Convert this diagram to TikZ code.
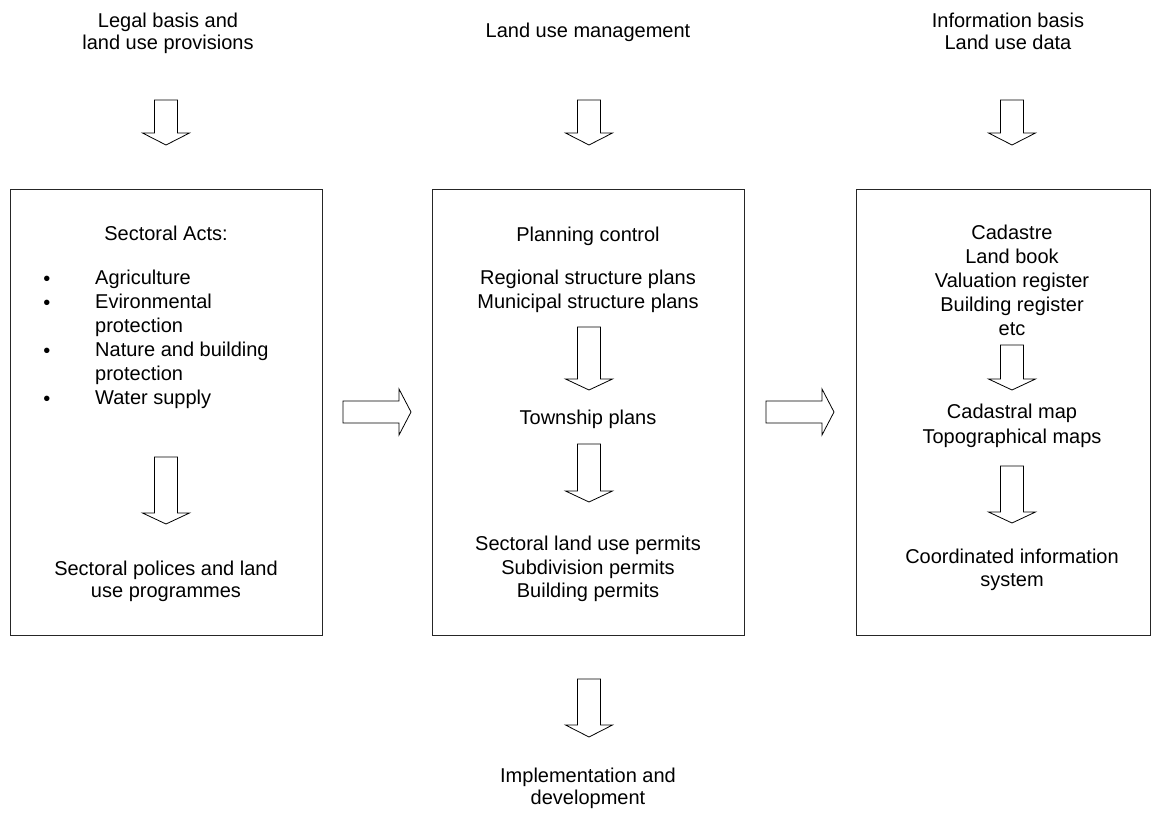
\documentclass[tikz,border=0pt]{standalone}
\usepackage{fontspec}
\setmainfont{Liberation Sans}
\newcommand\BlockDown[4]{% x, shaft top, head base, tip
  \draw[blockarrow] ({#1-11.5},#2) -- ({#1+11.5},#2) -- ({#1+11.5},#3) -- ({#1+23.5},#3)
    -- (#1,#4) -- ({#1-23.5},#3) -- ({#1-11.5},#3) -- cycle;}
\newcommand\BlockRight[4]{% y, shaft left, head base, tip
  \draw[blockarrow] (#2,{#1-11}) -- (#3,{#1-11}) -- (#3,{#1-23}) -- (#4,#1)
    -- (#3,{#1+23}) -- (#3,{#1+11}) -- (#2,{#1+11}) -- cycle;}
\tikzset{
  blockarrow/.style={draw=black, line width=0.8pt, fill=white, line join=miter},
  boxframe/.style={draw=black!85, line width=1pt, anchor=north west, inner sep=0pt, minimum height=446pt},
  txt/.style={inner sep=0pt, anchor=north, align=center,
    font=\fontsize{20}{23.5}\selectfont, execute at begin node={\rule{0pt}{16.45pt}}},
  txtl/.style={txt, align=left, anchor=north west, font=\fontsize{20}{24}\selectfont},
  tight/.style={font=\fontsize{20}{21.8}\selectfont},
}
\begin{document}
\begin{tikzpicture}[x=1pt, y=-1pt]
\useasboundingbox (0,0) rectangle (1156,834);
% boxes
\node[boxframe, minimum width=312pt] (lbox) at (10,189) {};
\node[boxframe, minimum width=312pt] (mbox) at (432,189) {};
\node[boxframe, minimum width=294pt] (rbox) at (856,189) {};
% top labels
\node[txt, tight] (t1) at (168,13) {Legal basis and\\land use provisions};
\node[txt] (t2) at (588,21) {Land use management};
\node[txt, tight] (t3) at (1008,13) {Information basis\\Land use data};
% top arrows
\BlockDown{166}{100}{133}{145}
\BlockDown{589}{100}{133}{145}
\BlockDown{1012}{100}{133}{145}
% left box
\node[txt] (sa) at (166,224) {Sectoral Acts:};
\node[txtl, anchor=north] (bul) at (47,276) {•\\•\\\mbox{}\\•\\\mbox{}\\•};
\node[txtl] (items) at (95,270) {Agriculture\\Evironmental\\protection\\Nature and building\\protection\\Water supply};
\BlockDown{166}{457}{513}{524}
\node[txt, font=\fontsize{20}{22}\selectfont] (sp) at (166,561) {Sectoral polices and land\\use programmes};
% middle box
\node[txt] (pc) at (588,225) {Planning control};
\node[txt] (rs) at (588,270) {Regional structure plans\\Municipal structure plans};
\BlockDown{589}{327}{379}{390}
\node[txt] (tp) at (588,408) {Township plans};
\BlockDown{589}{444}{491}{502}
\node[txt] (pm) at (588,536) {Sectoral land use permits\\Subdivision permits\\Building permits};
% right box
\node[txt, font=\fontsize{20}{24}\selectfont] (cd) at (1012,225) {Cadastre\\Land book\\Valuation register\\Building register\\etc};
\BlockDown{1012}{345}{379}{390}
\node[txt, font=\fontsize{20}{24.5}\selectfont] (cm) at (1012,404) {Cadastral map\\Topographical maps};
\BlockDown{1012}{466}{512}{523}
\node[txt, font=\fontsize{20}{23}\selectfont] (ci) at (1012,549) {Coordinated information\\system};
% horizontal arrows between boxes
\BlockRight{412}{343}{399}{411}
\BlockRight{412}{766}{822}{834}
% bottom
\BlockDown{589}{679}{725}{737}
\node[txt, tight] (im) at (588,768) {Implementation and\\development};
\end{tikzpicture}
\end{document}
